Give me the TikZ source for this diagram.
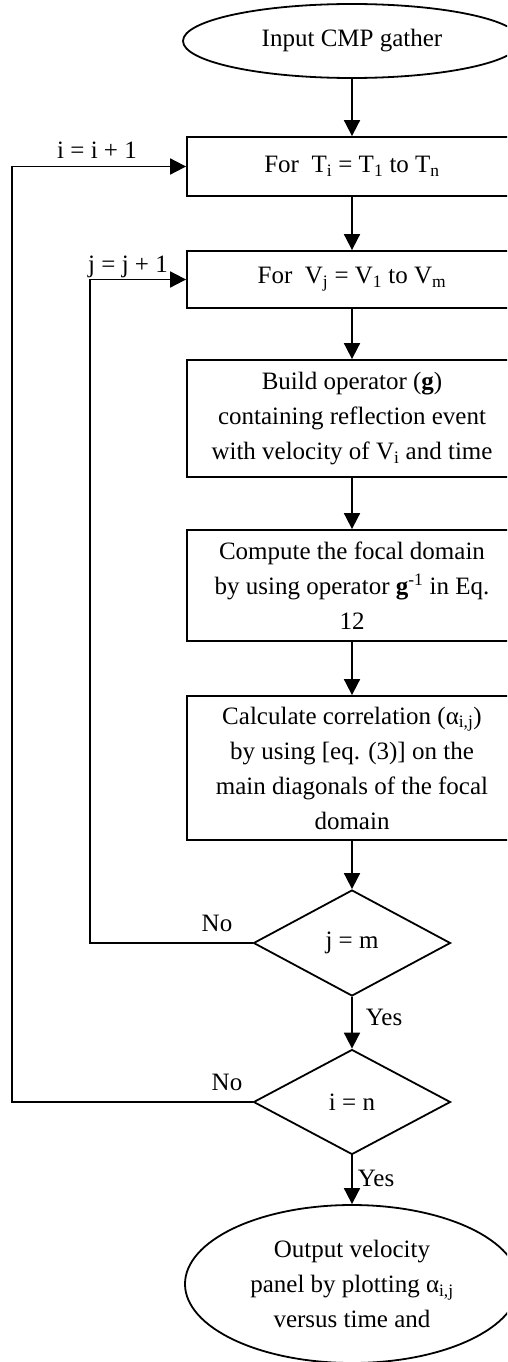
\documentclass[tikz,border=0pt]{standalone}
\usepackage{fontspec}
\setmainfont{Liberation Serif}
\usetikzlibrary{shapes.geometric,arrows.meta}
\begin{document}
\begin{tikzpicture}[x=1pt,y=-1pt,line width=1.8pt,
  font=\fontsize{25}{35}\selectfont,
  procbox/.style={draw,rectangle,minimum width=330pt,inner sep=0pt,align=center},
  termin/.style={draw,ellipse,inner sep=0pt,align=center},
  decision/.style={draw,diamond,aspect=2,minimum width=197pt,minimum height=106pt,inner sep=0pt},
  flow/.style={-{Triangle[length=16pt,width=16pt]}},
  lbl/.style={inner sep=0pt}]
\clip (0,0) rectangle (507,1362);

% main column of steps
\node[termin,minimum width=338pt,minimum height=74pt] (start) at (352,41) {Input CMP gather};
\node[procbox,minimum height=59pt] (b1) at (352,166.5)
  {For\ \ T\textsubscript{i} = T\textsubscript{1} to T\textsubscript{n}};
\node[procbox,minimum height=57pt] (b2) at (352,279.5)
  {For\ \ V\textsubscript{j} = V\textsubscript{1} to V\textsubscript{m}};
\node[procbox,minimum height=117pt] (b3) at (352,418.5)
  {Build operator (\textbf{g})\\containing reflection event\\with velocity of V\textsubscript{i} and time};
\node[procbox,minimum height=111pt] (b4) at (352,585.5)
  {Compute the focal domain\\by using operator \textbf{g}\textsuperscript{-1} in Eq.\\12};
\node[procbox,minimum height=144pt] (b5) at (352,768)
  {Calculate correlation (α\textsubscript{i,j})\\by using [eq. (3)] on the\\main diagonals of the focal\\domain};
\node[decision] (d1) at (352,943) {j = m};
\node[decision,minimum height=105pt] (d2) at (352,1102) {i = n};
\node[termin,minimum width=334pt,minimum height=158pt] (stop) at (352,1284)
  {Output velocity\\panel by plotting α\textsubscript{i,j}\\versus time and};

% forward flow
\draw[flow] (start) -- (b1);
\draw[flow] (b1) -- (b2);
\draw[flow] (b2) -- (b3);
\draw[flow] (b3) -- (b4);
\draw[flow] (b4) -- (b5);
\draw[flow] (b5) -- (d1);
\draw[flow] (d1) -- (d2);
\draw[flow] (d2) -- (stop);

% loop-back connectors
\coordinate (jx) at (90,600);
\coordinate (ix) at (12,600);
\draw[flow] (d1.west) -- (d1.west -| jx) -- (b2.west -| jx) -- (b2.west);
\draw[flow] (d2.west) -- (d2.west -| ix) -- (b1.west -| ix) -- (b1.west);

% connector labels
\node[lbl,anchor=base] (li) at (97,158) {i = i + 1};
\node[lbl,anchor=base] (lj) at (128,272) {j = j + 1};
\node[lbl,anchor=base] (no1) at (217,931) {No};
\node[lbl,anchor=base] (no2) at (227,1090) {No};
\node[lbl,anchor=base west] (yes1) at (365,1025) {Yes};
\node[lbl,anchor=base west] (yes2) at (357,1186) {Yes};
\end{tikzpicture}
\end{document}
